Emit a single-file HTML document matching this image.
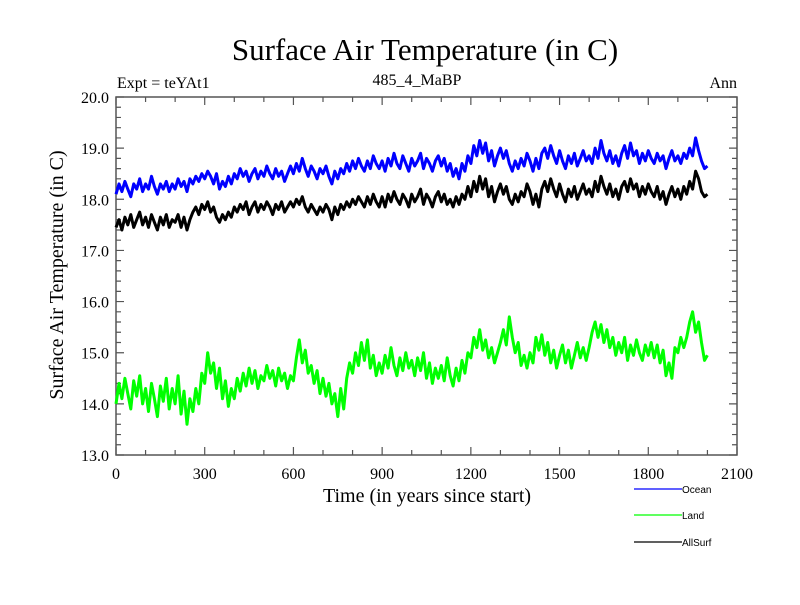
<!DOCTYPE html>
<html><head><meta charset="utf-8"><style>
body{margin:0;background:#fff}
svg text{font-family:"Liberation Serif",serif}
svg text.sans{font-family:"Liberation Sans",sans-serif}
</style></head><body>
<svg id="chart" width="800" height="600" xmlns="http://www.w3.org/2000/svg">
<rect width="800" height="600" fill="#fff"/>
<text x="425" y="60" font-size="31" text-anchor="middle">Surface Air Temperature (in C)</text>
<text x="117" y="88" font-size="16">Expt = teYAt1</text>
<text x="417" y="85" font-size="16" text-anchor="middle">485_4_MaBP</text>
<text x="737" y="88" font-size="16" text-anchor="end">Ann</text>
<text transform="translate(63,275) rotate(-90)" font-size="20" text-anchor="middle">Surface Air Temperature (in C)</text>
<text x="427" y="502" font-size="20" text-anchor="middle">Time (in years since start)</text>
<g id="axes"></g>
<g id="series"></g>
<g id="legend"></g>
</svg>
<script>
const years=[];for(let i=0;i<=200;i++)years.push(i*10);
const ocean=[18.10,18.30,18.15,18.35,18.20,18.05,18.30,18.20,18.40,18.15,
18.30,18.20,18.45,18.25,18.10,18.30,18.20,18.35,18.15,18.30,
18.20,18.40,18.25,18.35,18.15,18.40,18.30,18.45,18.35,18.50,
18.40,18.55,18.45,18.30,18.50,18.20,18.35,18.25,18.45,18.30,
18.50,18.40,18.60,18.45,18.55,18.35,18.50,18.60,18.40,18.55,
18.45,18.65,18.50,18.40,18.60,18.45,18.55,18.35,18.50,18.65,
18.50,18.70,18.55,18.80,18.60,18.45,18.65,18.55,18.40,18.60,
18.50,18.65,18.45,18.30,18.55,18.40,18.60,18.50,18.70,18.55,
18.75,18.60,18.80,18.65,18.55,18.75,18.60,18.85,18.70,18.60,
18.75,18.55,18.80,18.65,18.90,18.70,18.60,18.85,18.70,18.55,
18.80,18.65,18.75,18.90,18.60,18.80,18.70,18.55,18.75,18.85,
18.65,18.80,18.55,18.70,18.45,18.60,18.40,18.70,18.55,18.85,
18.70,19.05,18.85,19.15,18.90,19.10,18.75,18.95,18.65,18.85,
19.00,18.80,18.95,18.70,18.55,18.75,18.60,18.80,18.65,18.90,
18.75,18.55,18.80,18.60,18.90,19.00,18.80,19.05,18.85,18.70,
18.95,18.75,18.60,18.85,18.70,18.90,18.65,18.80,18.95,18.75,
18.85,18.70,19.00,18.80,19.15,18.90,18.75,18.95,18.70,18.85,
18.65,18.90,19.05,18.80,19.10,18.85,18.95,18.70,18.90,18.75,
18.95,18.80,18.70,18.90,18.75,18.85,18.60,18.80,18.95,18.75,
18.85,18.70,18.90,18.80,19.00,18.85,19.20,18.95,18.75,18.60,
18.65];
const land=[14.00,14.40,14.10,14.50,14.20,13.90,14.45,14.15,14.55,14.00,
14.30,13.85,14.40,14.10,13.75,14.35,14.05,14.50,13.90,14.30,
14.00,14.55,13.80,14.25,13.60,14.10,13.85,14.30,14.00,14.60,
14.40,15.00,14.60,14.80,14.30,14.70,14.10,14.45,13.95,14.30,
14.10,14.50,14.25,14.60,14.35,14.70,14.40,14.65,14.30,14.55,
14.45,14.75,14.50,14.65,14.35,14.70,14.45,14.60,14.30,14.55,
14.45,14.90,15.25,14.80,15.05,14.60,14.75,14.40,14.65,14.20,
14.50,14.15,14.40,14.00,14.20,13.75,14.30,13.90,14.50,14.80,
14.60,15.00,14.75,15.20,14.85,15.25,14.70,14.95,14.55,14.80,
14.60,14.95,14.70,15.10,14.75,14.55,14.90,14.65,15.00,14.70,
14.85,14.55,14.90,14.65,15.00,14.50,14.80,14.40,14.70,14.50,
14.75,14.45,14.90,14.55,14.35,14.70,14.45,14.85,14.60,15.00,
14.90,15.30,15.10,15.45,15.05,15.25,14.90,15.10,14.80,15.00,
15.20,15.45,15.15,15.70,15.30,15.00,15.20,14.75,14.95,14.70,
15.00,14.80,15.30,15.05,15.35,14.95,15.20,14.80,15.05,14.70,
14.95,15.15,14.80,15.05,14.70,14.95,15.20,14.90,15.10,14.85,
15.10,15.40,15.60,15.30,15.55,15.20,15.45,15.10,15.30,14.95,
15.20,15.00,15.30,14.85,15.15,14.95,15.25,15.00,14.85,15.15,
14.95,15.20,14.90,15.15,14.80,15.05,14.55,14.80,14.50,15.10,
15.00,15.30,15.10,15.30,15.60,15.80,15.40,15.60,15.20,14.85,
14.95];
const allSurf=[17.45,17.60,17.40,17.65,17.50,17.70,17.45,17.60,17.75,17.50,
17.65,17.45,17.70,17.55,17.40,17.65,17.50,17.70,17.45,17.60,
17.55,17.70,17.45,17.65,17.40,17.60,17.75,17.85,17.70,17.90,
17.80,17.95,17.75,17.85,17.65,17.55,17.70,17.60,17.75,17.65,
17.85,17.75,17.90,17.80,17.95,17.70,17.85,17.95,17.75,17.90,
17.80,17.95,17.85,17.70,17.90,17.80,17.95,17.75,17.85,17.95,
17.85,18.00,17.90,18.05,17.85,17.75,17.90,17.80,17.70,17.85,
17.75,17.90,17.80,17.60,17.85,17.70,17.90,17.80,17.95,17.85,
18.00,17.90,18.05,17.95,17.85,18.05,17.90,18.10,17.95,17.85,
18.05,17.85,18.10,17.95,18.15,18.00,17.90,18.10,18.00,17.85,
18.10,17.95,18.05,18.20,17.90,18.10,18.00,17.85,18.05,18.15,
17.95,18.10,17.90,18.00,17.85,18.05,17.90,18.10,18.00,18.25,
18.05,18.35,18.15,18.45,18.20,18.40,18.05,18.25,17.95,18.15,
18.30,18.10,18.25,18.00,17.90,18.10,17.95,18.15,18.05,18.30,
18.15,17.90,18.10,17.85,18.20,18.35,18.15,18.40,18.20,18.05,
18.30,18.10,17.95,18.20,18.05,18.25,18.00,18.15,18.30,18.10,
18.20,18.05,18.35,18.15,18.45,18.25,18.10,18.30,18.05,18.20,
18.00,18.25,18.35,18.15,18.40,18.20,18.30,18.05,18.25,18.10,
18.30,18.15,18.05,18.25,18.00,18.15,17.90,18.10,18.25,18.05,
18.20,18.00,18.25,18.10,18.35,18.20,18.55,18.40,18.15,18.05,
18.10];
const xTicks=[0,300,600,900,1200,1500,1800,2100];
const yTicks=[13,14,15,16,17,18,19,20];
const seriesNames=["Ocean","Land","AllSurf"];
const seriesColors=["#0000ff","#00ff00","#000000"];

const NS="http://www.w3.org/2000/svg";
const L=116,R=737,T=97,B=455;
const xS=v=>L+(v-0)/(2100-0)*(R-L);
const yS=v=>B-(v-13)/(20-13)*(B-T);
function mk(tag,attrs,parent){const e=document.createElementNS(NS,tag);for(const k in attrs)e.setAttribute(k,attrs[k]);parent.appendChild(e);return e;}
const axes=document.getElementById('axes');
const frame=mk('rect',{x:L,y:T,width:R-L,height:B-T,fill:'none',stroke:'#555','stroke-width':1.5},axes);


let d='';
for(let v=0;v<=2100;v+=100){const x=xS(v),len=(v%300===0)?8:5;d+=`M${x},${B}v${-len}M${x},${T}v${len}`;}
for(let v=13;v<=20.001;v+=0.2){const y=yS(v),len=(Math.abs(v-Math.round(v))<0.01)?8:5;d+=`M${L},${y}h${len}M${R},${y}h${-len}`;}
const tk=mk('path',{d:d,stroke:'#555','stroke-width':1.2,fill:'none'},axes);


xTicks.forEach(v=>{const t=mk('text',{x:xS(v),y:479,'font-size':16,'text-anchor':'middle'},axes);t.textContent=String(v);

});
yTicks.forEach(v=>{const t=mk('text',{x:109,y:yS(v)+6,'font-size':16,'text-anchor':'end'},axes);t.textContent=v.toFixed(1);

});
const sg=document.getElementById('series');
[ocean,land,allSurf].forEach((arr,i)=>{
 const pts=arr.map((v,j)=>xS(years[j]).toFixed(1)+','+yS(v).toFixed(1)).join(' ');
 const p=mk('polyline',{points:pts,fill:'none',stroke:seriesColors[i],'stroke-width':3,'stroke-linejoin':'round'},sg);
 
 
});
const lg=document.getElementById('legend');
[489,515,542].forEach((y,i)=>{
 const ln=mk('line',{x1:634,x2:682,y1:y,y2:y,stroke:seriesColors[i],'stroke-width':1.2},lg);
 
 
 const t=mk('text',{x:682,y:y+4,'font-size':10,'class':'sans'},lg);t.textContent=seriesNames[i];
 
 
});
</script>
</body></html>
